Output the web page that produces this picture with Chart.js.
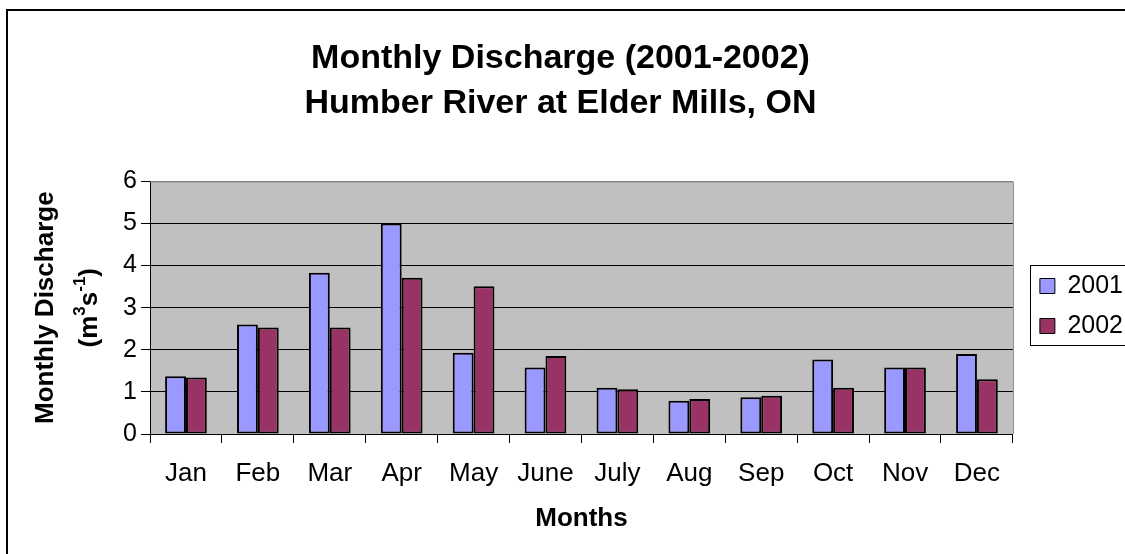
<!DOCTYPE html>
<html>
<head>
<meta charset="utf-8">
<script src="https://cdn.jsdelivr.net/npm/chart.js@4.4.0/dist/chart.umd.min.js"></script>
<style>
  html, body { margin: 0; padding: 0; background: #fff; overflow: hidden; }
  #wrap { position: relative; width: 1125px; height: 554px; }
</style>
</head>
<body>
<div id="wrap"><canvas id="chart"></canvas></div>
<script>
const months = ['Jan', 'Feb', 'Mar', 'Apr', 'May', 'June', 'July', 'Aug', 'Sep', 'Oct', 'Nov', 'Dec']
const discharge2001 = [1.37, 2.60, 3.83, 5.00, 1.93, 1.58, 1.10, 0.79, 0.87, 1.77, 1.58, 1.90]
const discharge2002 = [1.34, 2.53, 2.53, 3.71, 3.51, 1.85, 1.06, 0.83, 0.91, 1.10, 1.58, 1.30]
const yTicks = [0, 1, 2, 3, 4, 5, 6]

const FONT = 'Arial, "Liberation Sans", sans-serif'

// Gray plot background, gray top/right frame, outer chart border, legend frame, y title
const excelLook = {
  id: 'excelLook',
  afterLayout(chart) {
    // nudge the legend into the spot Excel puts it
    const l = chart.legend
    l.left += 12; l.right += 12
    l.top += 29; l.bottom += 29
    const pad = l.options.labels.padding
    const colH = l.columnSizes ? l.columnSizes[0].height : 80
    const firstTop = ((l.top + pad) + (l.bottom - colH)) / 2
    this._frame = {
      x: l.left + pad - 10,
      y: firstTop - 8.5,
      h: colH - pad + 15
    }
  },
  beforeDraw(chart) {
    const { ctx, chartArea: a } = chart
    ctx.save()
    ctx.fillStyle = '#c0c0c0'
    ctx.fillRect(a.left, a.top, a.right - a.left, a.bottom - a.top)
    ctx.restore()
  },
  beforeDatasetsDraw(chart) {
    const { ctx, chartArea: a } = chart
    ctx.save()
    ctx.strokeStyle = '#808080'
    ctx.lineWidth = 1
    ctx.beginPath()
    ctx.moveTo(a.left, a.top + 0.5)
    ctx.lineTo(a.right + 0.5, a.top + 0.5)
    ctx.lineTo(a.right + 0.5, a.bottom)
    ctx.stroke()
    ctx.restore()
  },
  afterDraw(chart) {
    const { ctx } = chart
    ctx.save()
    // outer chart border (runs off the page on the right and bottom)
    ctx.strokeStyle = '#000'
    ctx.lineWidth = 2
    ctx.strokeRect(7, 10, 1400, 900)

    // legend frame
    const f = this._frame
    if (f) {
      ctx.lineWidth = 1
      ctx.strokeRect(Math.round(f.x) + 0.5, Math.round(f.y) + 0.5, 400, Math.round(f.h))
    }

    // y axis title with superscripts
    const a = chart.chartArea
    const cy = (a.top + a.bottom) / 2
    ctx.fillStyle = '#000'
    ctx.save()
    ctx.translate(53, cy)
    ctx.rotate(-Math.PI / 2)
    ctx.font = 'bold 26px ' + FONT
    ctx.textAlign = 'center'
    ctx.textBaseline = 'alphabetic'
    ctx.fillText('Monthly Discharge', 0, 0)
    ctx.restore()

    ctx.save()
    ctx.translate(97, cy)
    ctx.rotate(-Math.PI / 2)
    ctx.textBaseline = 'alphabetic'
    ctx.textAlign = 'left'
    const parts = [
      { t: '(m', sup: false },
      { t: '3', sup: true },
      { t: 's', sup: false },
      { t: '-1', sup: true },
      { t: ')', sup: false }
    ]
    const big = 'bold 26px ' + FONT
    const small = 'bold 17px ' + FONT
    let total = 0
    parts.forEach(p => {
      ctx.font = p.sup ? small : big
      p.w = ctx.measureText(p.t).width
      total += p.w
    })
    let x = -total / 2
    parts.forEach(p => {
      ctx.font = p.sup ? small : big
      ctx.fillText(p.t, x, p.sup ? -12 : 0)
      x += p.w
    })
    ctx.restore()
    ctx.restore()
  }
}

new Chart(document.getElementById('chart'), {
  type: 'bar',
  data: {
    labels: months,
    datasets: [
      {
        label: '2001',
        data: discharge2001,
        backgroundColor: '#9999ff',
        borderColor: '#000',
        borderWidth: 2,
        borderSkipped: false
      },
      {
        label: '2002',
        data: discharge2002,
        backgroundColor: '#993366',
        borderColor: '#000',
        borderWidth: 2,
        borderSkipped: false
      }
    ]
  },
  plugins: [excelLook],
  options: {
    responsive: true,
    maintainAspectRatio: false,
    animation: false,
    devicePixelRatio: 1,
    layout: { padding: { left: 0, right: 4, top: 0, bottom: 0 } },
    datasets: {
      bar: { barPercentage: 1, categoryPercentage: 0.58 }
    },
    plugins: {
      title: {
        display: true,
        text: ['Monthly Discharge (2001-2002)', 'Humber River at Elder Mills, ON'],
        color: '#000',
        font: { family: FONT, size: 34, weight: 'bold', lineHeight: 1.3 },
        padding: { top: 37, bottom: 56 }
      },
      legend: {
        position: 'right',
        labels: {
          color: '#000',
          font: { family: FONT, size: 25 },
          boxWidth: 15,
          boxHeight: 15,
          padding: 15,
          generateLabels(chart) {
            return Chart.defaults.plugins.legend.labels.generateLabels(chart)
              .map(l => ({ ...l, lineWidth: 1 }))
          }
        }
      },
      tooltip: { enabled: false }
    },
    scales: {
      x: {
        afterFit(scale) {
          scale.height = 120
        },
        grid: {
          display: true,
          offset: true,
          drawOnChartArea: false,
          color: '#000',
          tickLength: 9
        },
        border: { display: true, color: '#000', width: 1 },
        ticks: { color: '#000', font: { family: FONT, size: 26 }, padding: 15 },
        title: {
          display: true,
          text: 'Months',
          color: '#000',
          font: { family: FONT, size: 26, weight: 'bold' },
          padding: { top: 0, bottom: 20 }
        }
      },
      y: {
        min: 0,
        max: 6,
        afterBuildTicks(scale) {
          scale.ticks = yTicks.map(v => ({ value: v }))
        },
        afterFit(scale) {
          scale.width = 150
        },
        grid: {
          color: ctx => (ctx.tick && ctx.tick.value === 6 ? '#808080' : '#000'),
          tickColor: '#000',
          tickLength: 9
        },
        border: { display: true, color: '#000', width: 1 },
        ticks: { color: '#000', font: { family: FONT, size: 25 }, padding: 4 }
      }
    }
  }
})
</script>
</body>
</html>
